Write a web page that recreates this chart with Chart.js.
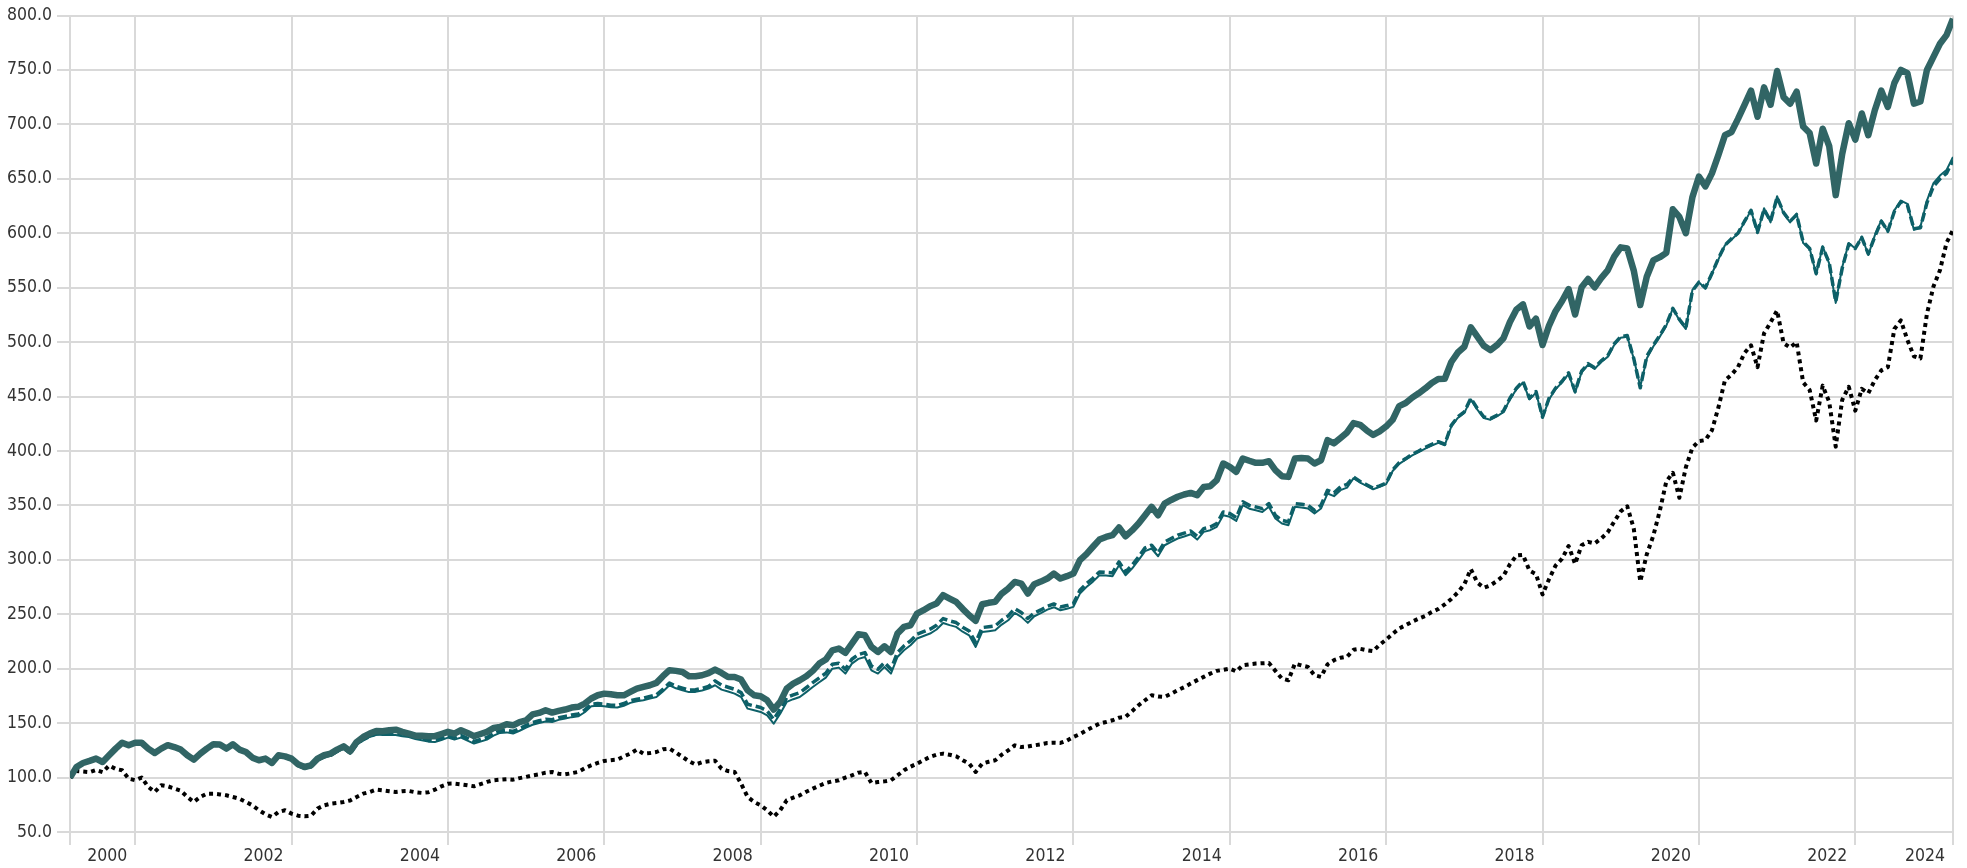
<!DOCTYPE html>
<html>
<head>
<meta charset="utf-8">
<title>Growth</title>
<script src="https://cdn.jsdelivr.net/npm/chart.js@4.4.1/dist/chart.umd.min.js"></script>
<style>
    html, body { margin: 0; padding: 0; background: #fff; }
    #wrap { width: 1967px; height: 868px; position: relative; }
</style>
</head>
<body>
<div id="wrap"><canvas id="growth"></canvas></div>
<script>
// monthly values, index 0 = first month on the chart

// thick line
const growthA = [
    100, 109.7, 113.4, 115.3, 117.4, 114.3, 120.5, 126.6, 132, 129.7, 132, 132,
    126.6, 122.6, 126.6, 129.7, 128, 125.7, 120.5, 116.5, 122, 126.6, 130.6, 130.3,
    126.6, 130.6, 125.7, 123.5, 118.3, 115.9, 117.4, 113.4, 120.5, 119.5, 117.4, 112.2,
    109.7, 111.3, 117.4, 120.5, 122, 125.7, 128.7, 124.1, 132.7, 137.3, 140.4, 142.8,
    142.5, 143.5, 144, 142, 140.4, 138.5, 138.5, 138, 138, 140, 142, 140.4,
    143.5, 141, 138, 140, 142, 145.6, 146.5, 149, 148, 151, 152.6, 158,
    159.4, 161.8, 159.7, 161.2, 162.5, 164.3, 165, 168, 172.6, 175.6, 177.1, 176.5,
    175.6, 175.6, 178.7, 181.7, 183.3, 184.8, 187, 193.1, 198.6, 198, 197, 193,
    193, 194, 196, 199.2, 196.1, 192.4, 192.4, 190, 180.2, 175.6, 174.7, 171,
    162.4, 169.5, 181.7, 186.3, 189.4, 193, 198, 204.7, 208.4, 216.9, 218.5, 214.5,
    223, 231.6, 230.7, 220, 215.4, 220.6, 215.4, 232.3, 238.4, 239.9, 250.6, 253.7,
    257.4, 259.8, 267.5, 264.4, 261.4, 255, 249.1, 243.9, 259.2, 260.5, 261.4, 269,
    273.6, 279.7, 278.2, 269, 277.6, 280, 282.8, 287.4, 282.8, 285, 287.4, 299.7,
    305.2, 312, 318.6, 321, 322.6, 329.7, 321.7, 327, 333.3, 341, 348.7, 341,
    351.7, 355, 357.9, 360, 361.5, 359.4, 367, 367.6, 373.2, 388.5, 385.4, 380.8,
    393.1, 391, 389.1, 389.1, 390.6, 382.4, 376.8, 376.2, 393.1, 393.5, 393.1, 388.5,
    391.5, 409.9, 407, 412, 417, 425.6, 424, 419, 414.7, 418, 422.5, 428.7,
    441.2, 444, 449, 453, 457.4, 462.5, 466.1, 466.3, 481.7, 490.4, 495.7, 513.5,
    505, 496.6, 492.6, 497.2, 503.5, 518.5, 530, 534.7, 514.4, 521.5, 497.3, 515.2,
    528.4, 537.7, 548.7, 525.3, 550.3, 558, 550.3, 558.7, 565.8, 578.5, 587, 586,
    565.8, 534, 560, 575, 578, 582, 622, 615, 600, 633, 652, 643,
    655, 672, 690, 693, 705, 718, 731, 707, 734, 718, 749, 725,
    719, 730, 698, 692, 664, 696, 680, 635, 673, 701, 686, 710,
    690, 713, 731, 716, 738, 750, 747, 719, 721, 750, 762, 774,
    782, 797
];

// thin solid line
const growthB = [
    100, 108.7, 112.4, 114.3, 116.4, 113.3, 119.5, 125.6, 131, 128.7, 131, 131,
    125.6, 121.6, 125.6, 128.7, 127, 124.7, 119.5, 115.5, 121, 125.6, 129.6, 129.3,
    125.6, 129.6, 124.7, 122.5, 117.3, 114.9, 116.2, 112.2, 119, 118, 115.9, 110.5,
    108, 109.5, 115.5, 118.5, 120, 123.5, 126.5, 121.8, 130, 134.3, 137.3, 139.5,
    139, 139, 139, 138, 137.3, 135.5, 134.3, 133, 132.7, 134.5, 136.7, 135,
    136.7, 134, 131.2, 133, 134.9, 138.5, 141, 141.5, 140.4, 143, 146, 148.5,
    150.2, 151.5, 151.1, 153, 154.2, 155.5, 156.3, 160, 165.5, 166, 165.5, 164.5,
    164.3, 166, 168.6, 170, 171, 172.5, 174, 179, 184.8, 182, 180.2, 178.5,
    178.7, 180, 181.7, 184.8, 180.8, 179, 177.1, 174, 163.3, 161.8, 160.3, 157.2,
    149.5, 158.7, 169.5, 172, 174, 178.5, 183.2, 187.5, 191.8, 200, 201, 195.5,
    204.7, 209, 210.8, 198.5, 195.5, 201.6, 195.5, 210.8, 216.9, 221.5, 227.7, 230,
    232.3, 236, 242, 240, 238.4, 234, 230.7, 220, 233.8, 234.5, 235.3, 240.5,
    244.5, 251.2, 247.6, 242.1, 248.2, 251, 254.3, 256.5, 253.7, 255, 256.8, 269,
    275.1, 280, 285.9, 285.5, 285, 295.1, 285.9, 292, 299.7, 308, 310.4, 303.3,
    313.4, 316.5, 319.6, 321.5, 323.5, 318.6, 325.7, 327.2, 330.3, 341, 339.5, 335.8,
    350.2, 347, 345.6, 344, 348.7, 337.9, 333.3, 331.8, 348.7, 348, 347.1, 342.5,
    347.1, 360.9, 358.5, 364, 366.3, 375, 371, 368, 364.8, 367, 369.5, 381.6,
    388.2, 392, 396, 399, 402.2, 405, 407.5, 405.3, 422.5, 430.3, 435, 447.4,
    438, 430.2, 428.7, 431.8, 435.6, 447.4, 456.7, 463, 447.4, 453.6, 430.2, 447.4,
    456.7, 463, 470.8, 453.6, 472.3, 479.2, 475.4, 481.7, 486.4, 497.3, 504.1, 505,
    485, 459, 485, 496, 505, 515, 531, 520, 512, 548, 555, 549,
    563, 576, 589, 594, 600, 610, 621, 600, 623, 610, 634, 618,
    610, 618, 591, 586, 562, 588, 572, 536, 569, 591, 586, 597,
    580, 598, 612, 601, 621, 630, 627, 603, 606, 630, 646, 653,
    658, 670
];

// dashed line
const growthC = [
    100, 109.2, 112.9, 114.8, 116.9, 113.8, 120, 126.1, 131.5, 129.2, 131.5, 131.5,
    126.1, 122.1, 126.1, 129.2, 127.5, 125.2, 120, 116, 121.5, 126.1, 130.1, 129.8,
    126.1, 130.1, 125.2, 123, 117.8, 115.4, 116.7, 112.7, 119.5, 118.5, 116.4, 111,
    108.5, 110, 116, 119, 120.5, 124, 127, 122.3, 130.5, 134.8, 137.8, 140,
    141, 141, 141, 140, 139.3, 137.5, 136.3, 135, 134.7, 136.5, 138.7, 137,
    138.7, 136, 133.2, 135, 136.9, 140.5, 143, 143.5, 142.4, 145, 148, 150.5,
    152.2, 153.5, 153.1, 155, 156.2, 157.5, 158.3, 162, 167.5, 168, 167.5, 166.5,
    166.3, 168, 170.6, 172, 173, 174.5, 176, 181, 186.8, 184, 182.2, 180.5,
    180.7, 182, 183.7, 188.8, 184.8, 183, 181.1, 178, 167.3, 165.8, 164.3, 161.2,
    153.5, 162.7, 173.5, 176, 178, 182.5, 187.2, 191.5, 195.8, 204, 205, 199.5,
    208.7, 213, 214.8, 202.5, 199.5, 205.6, 199.5, 214.8, 220.9, 225.5, 231.7, 234,
    236.3, 240, 246, 244, 242.4, 238, 234.7, 224, 237.8, 238.5, 239.3, 244.5,
    248.5, 255.2, 251.6, 246.1, 251.2, 254, 257.3, 259.5, 256.7, 258, 259.8, 272,
    278.1, 283, 288.9, 288.5, 288, 298.1, 288.9, 295, 302.7, 311, 313.4, 306.3,
    316.4, 319.5, 322.6, 324.5, 326.5, 321.6, 328.7, 330.2, 333.3, 344, 342.5, 338.8,
    353.2, 350, 348.6, 347, 351.7, 340.9, 336.3, 334.8, 351.7, 351, 350.1, 345.5,
    350.1, 363.9, 361.5, 367, 369.3, 376, 372, 369, 365.8, 368, 370.5, 382.6,
    389.2, 393, 397, 400, 403.2, 406, 408.5, 406.3, 423.5, 431.3, 436, 448.4,
    439, 431.2, 429.7, 432.8, 436.6, 448.4, 457.7, 464, 448.4, 454.6, 431.2, 448.4,
    457.7, 464, 471.8, 454.6, 473.3, 480.2, 476.4, 482.7, 487.4, 498.3, 505.1, 506,
    485, 458, 487, 497, 506, 516, 531, 521, 513, 547, 555, 550,
    563, 577, 589, 595, 600, 611, 621, 601, 622, 611, 633, 619,
    611, 617, 592, 586, 563, 587, 573, 537, 568, 590, 586, 596,
    581, 597, 611, 602, 620, 629, 626, 604, 605, 628, 643, 650,
    655, 667
];

// dotted line
const growthD = [
    100, 106, 105.5, 105, 107, 105, 111, 108, 106.7, 99, 97.5, 100,
    91.4, 86.8, 93, 92, 90, 88, 82.2, 77.6, 82.2, 85.2, 85.2, 84.5,
    83.7, 82.2, 80.6, 77.6, 74.5, 70, 66.3, 63.8, 68.4, 70, 66.9, 65,
    64.4, 65, 71.5, 74.5, 76, 76.7, 77.6, 79, 82.2, 85.2, 86.8, 89,
    88.3, 87.5, 86.8, 87.5, 87.7, 86.5, 85.9, 86.5, 88.9, 92, 94.4, 94.5,
    93.8, 93, 92, 94, 96, 97.5, 98.1, 98.5, 98.1, 99.5, 100.6, 102,
    103, 104.5, 105.2, 103.5, 103, 104, 105.2, 108.5, 111.3, 113.5, 115.3, 116,
    116.5, 119.5, 122, 125.7, 122, 122.5, 123.5, 126, 126.6, 123, 119, 115,
    112, 114, 115, 115.5, 108.2, 106, 105.2, 94.4, 82.2, 77.6, 74.5, 70,
    64, 70, 79.1, 81.5, 83.7, 87, 89.8, 92.5, 95, 96.5, 97.5, 100,
    102, 104.5, 105.2, 95, 95.9, 96.5, 97.5, 102, 106.7, 110, 112.8, 116,
    119, 121, 122, 121, 119.5, 116, 112.8, 105.2, 112.8, 114.5, 115.9, 121,
    125, 129.6, 128, 128.5, 129.6, 130.5, 131.8, 132, 131.8, 134, 137.3, 140,
    143.4, 146.5, 149.6, 151, 152.6, 155, 155.7, 161, 166.4, 171, 175.6, 174.5,
    174.1, 177, 180.2, 183, 186.3, 189.5, 192.5, 195.5, 198, 199, 200.1, 197.5,
    203.2, 204, 204.7, 205, 205.3, 198, 190.9, 189.4, 204.7, 203, 201.6, 194,
    192.5, 204, 207.8, 210, 211, 217.4, 218.3, 217, 216.1, 222, 226.7, 232,
    237, 240, 243.2, 246, 248.5, 252, 254.8, 259, 264.1, 270, 277.5, 291.5,
    279.1, 274.4, 276.6, 280.5, 285.3, 296, 304, 304.6, 290, 286.9, 268.2, 282.2,
    294.7, 301, 312.7, 296.3, 313.3, 316.5, 315, 319.6, 325.2, 335.1, 344.5, 349.2,
    329, 280, 305, 322, 345, 372, 380, 357, 385, 403, 409, 410,
    419, 440, 465, 470, 477, 490, 497, 477, 508, 518, 529, 499,
    495, 500, 463, 456, 428, 460, 445, 404, 447, 459, 437, 457,
    453, 465, 474, 477, 512, 520, 502, 487, 485, 526, 551, 566,
    591, 603
];

// x axis: month index of each grid line and the year written next to it
const tickMonths = [0, 10, 34, 58, 82, 106, 130, 154, 178, 202, 226, 250, 274, 289];
const tickLabels = ['', '2000', '2002', '2004', '2006', '2008', '2010', '2012', '2014', '2016', '2018', '2020', '2022', '2024'];

// y axis
const yMin = 50;
const yMax = 800;
const yStep = 50;

const gridColor = '#d9d9d9';
const textColor = '#333333';
const axisFont = { family: "'DejaVu Sans Condensed', 'Liberation Sans Narrow', sans-serif", size: 17.5 };

function toPoints(values)
{
    return values.map(function (v, i) { return { x: i, y: v }; });
}

let ctx = document.getElementById('growth').getContext('2d');
new Chart(ctx,
{
    type: 'line',
    data: {
        datasets:
        [{
            label: 'A',
            data: toPoints(growthA),
            borderColor: '#316565',
            borderWidth: 6.5
        },
        {
            label: 'B',
            data: toPoints(growthB),
            borderColor: '#0d6068',
            borderWidth: 2
        },
        {
            label: 'C',
            data: toPoints(growthC),
            borderColor: '#0d6068',
            borderWidth: 3.5,
            borderDash: [9, 4]
        },
        {
            label: 'D',
            data: toPoints(growthD),
            borderColor: '#000000',
            borderWidth: 4,
            borderDash: [4, 4],
            borderCapStyle: 'butt'
        }]
    },
    options:
    {
        responsive: true,
        maintainAspectRatio: false,
        animation: false,
        layout: { padding: { top: 15, right: 14, bottom: 0, left: 0 } },
        plugins: {
            legend: { display: false },
            tooltip: { enabled: false }
        },
        elements: {
            point: { radius: 0 },
            line: { tension: 0, fill: false, borderJoinStyle: 'round' }
        },
        scales:
        {
            x: {
                type: 'linear',
                min: 0,
                max: 289,
                afterBuildTicks: function (scale)
                {
                    scale.ticks = tickMonths.map(function (m) { return { value: m }; });
                },
                afterFit: function (scale)
                {
                    scale.height = 36;
                    scale.paddingLeft = 0;
                    scale.paddingRight = 0;
                },
                ticks: {
                    autoSkip: false,
                    maxRotation: 0,
                    labelOffset: -28,
                    padding: 1,
                    color: textColor,
                    font: axisFont,
                    callback: function (value, index) { return tickLabels[index]; }
                },
                grid: { color: gridColor, lineWidth: 2, tickLength: 13 },
                border: { display: false }
            },
            y: {
                min: yMin,
                max: yMax,
                afterFit: function (scale)
                {
                    scale.width = 70;
                },
                ticks: {
                    stepSize: yStep,
                    padding: 5,
                    color: textColor,
                    font: axisFont,
                    callback: function (value) { return Number(value).toFixed(1); }
                },
                grid: { color: gridColor, lineWidth: 2, tickLength: 13 },
                border: { display: false }
            }
        }
    }
});
</script>
</body>
</html>
